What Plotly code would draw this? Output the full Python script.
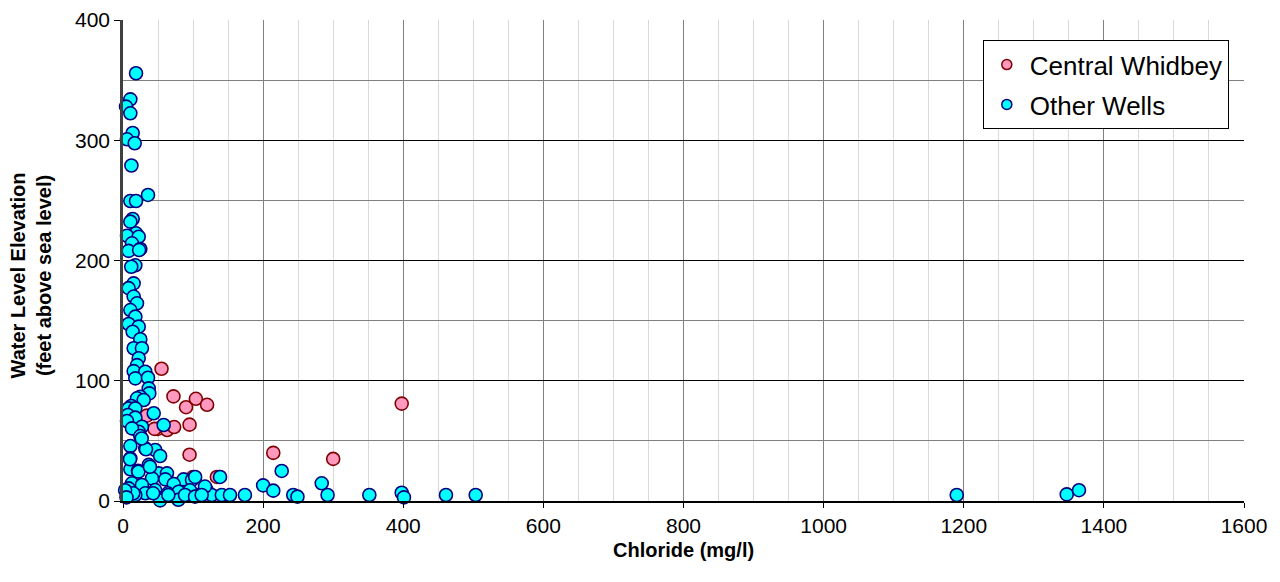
import plotly.graph_objects as go

# Central Whidbey wells: chloride (mg/l) and water level elevation (ft above sea level)
cw_chloride = [55, 72, 90, 104, 120, 34, 49.5, 63, 73, 95, 95, 214.5, 300, 397.8, 137.5, 100, 134, 45]
cw_elev = [110, 87, 78, 85, 80, 71, 60, 59, 61.5, 63.5, 38.5, 40, 35, 81, 20, 20, 20, 60]

# Other wells
ow_chloride = [18.6, 10.5, 4.3, 10.5, 13.8, 5.7, 16.7, 12, 35.7, 10.5, 18.6, 13.8, 10.5, 18.6, 5.7, 22.4,
               12.8, 24.7, 8, 23, 17.6, 11.8, 15.2, 8, 15.2, 20, 10.5, 17.6, 8, 22.4, 13.8, 24.7, 15.2, 27,
               22.4, 20, 15.2, 31.8, 17.6, 35.7, 36.7, 37.5, 24.7, 20, 29.5, 11.8, 8, 43.8, 17.6, 7, 17.6,
               5.7, 58, 27, 22.4, 12.8, 24.7, 10.5, 31.8, 46, 53, 10.5, 36.7, 10.5, 21.4, 51, 62.8, 41.4,
               60.4, 86.6, 98.5, 12.8, 27, 72.4, 8, 46, 31.8, 64, 79.5, 53, 17.6, 93.8, 105.6, 53, 79, 103,
               138.5, 119.5, 126.6, 141, 152.7, 174, 200, 214.5, 226.5, 95.6, 110, 88.5, 64.7, 43, 14.7, 22,
               38.5, 10, 32.8, 26.7, 243, 249, 283.6, 292, 351.6, 117, 102.8, 112.3, 397.8, 401, 461, 503.4,
               1190, 1347, 1364.5, 3, 5]
ow_elev = [355.7, 334, 328, 322.4, 306, 300.8, 297.5, 279, 254.5, 249.5, 249.5, 234.5, 232.3, 222.6, 220.6,
           219.8, 214.3, 209.6, 208, 208.7, 196, 194.8, 181, 177, 170, 164.4, 158.8, 153.3, 147.2, 145, 140.8,
           134.5, 127, 127, 118.7, 113, 108, 107.5, 102, 102.5, 93.7, 89.5, 86.7, 85.4, 84, 79, 77, 73, 77,
           71.5, 69.3, 66.5, 63.2, 61.8, 57.6, 60.4, 54, 45.7, 43.8, 42.4, 37.4, 35.5, 30, 26.4, 25.2, 23, 23,
           18.8, 18, 18, 17.5, 14.7, 13.3, 14.1, 10.5, 9.1, 6.4, 6.4, 7.7, 2.2, 5, 5, 5, 0.5, 1, 20, 20, 9, 5,
           5, 5, 5, 13, 8.6, 25, 9, 5, 5, 5, 6.4, 6.4, 24.4, 28.5, 34.7, 43, 52, 5, 3.6, 14.7, 5, 5, 12, 3.6,
           5, 6.9, 3, 5, 5, 5, 5.5, 9, 9, 3]

series_names = ["Central Whidbey", "Other Wells"]
x_ticks = [0, 200, 400, 600, 800, 1000, 1200, 1400, 1600]
y_ticks = [0, 100, 200, 300, 400]
x_title = "Chloride (mg/l)"
y_title = "Water Level Elevation<br>(feet above sea level)"

PINK, PINK_EDGE = "#ff99c0", "#800000"
CYAN, CYAN_EDGE = "#00ffff", "#000080"
FONT = "Liberation Sans, Arial, sans-serif"

fig = go.Figure()
fig.add_trace(go.Scatter(x=cw_chloride, y=cw_elev, mode="markers", showlegend=False, cliponaxis=False,
                         marker=dict(size=13, color=PINK, line=dict(color=PINK_EDGE, width=1.6))))
fig.add_trace(go.Scatter(x=ow_chloride, y=ow_elev, mode="markers", showlegend=False, cliponaxis=False,
                         marker=dict(size=13, color=CYAN, line=dict(color=CYAN_EDGE, width=1.6))))
# legend entries (smaller markers, as in the reference)
fig.add_trace(go.Scatter(x=[None], y=[None], mode="markers", name=series_names[0], legendgroup="a",
                         marker=dict(size=10, color=PINK, line=dict(color=PINK_EDGE, width=1.5))))
fig.add_trace(go.Scatter(x=[None], y=[None], mode="markers", name=series_names[1], legendgroup="b",
                         marker=dict(size=10, color=CYAN, line=dict(color=CYAN_EDGE, width=1.5))))

fig.add_annotation(text="<b>" + x_title + "</b>", xref="paper", yref="paper", x=0.5, y=0,
                   xanchor="center", yanchor="middle", yshift=-49, showarrow=False,
                   font=dict(size=20))
fig.add_annotation(text="<b>" + y_title + "</b>", xref="paper", yref="paper", x=0, y=0.5,
                   xanchor="center", yanchor="middle", xshift=-93, yshift=-15, textangle=-90,
                   showarrow=False, font=dict(size=20))

fig.update_layout(
    width=1280, height=582,
    margin=dict(l=115, r=44, t=12, b=89),
    paper_bgcolor="white", plot_bgcolor="white",
    font=dict(family=FONT, color="black", size=21),
    showlegend=True,
    legend=dict(x=0.767, y=0.958, xanchor="left", yanchor="top",
                bgcolor="white", bordercolor="black", borderwidth=1,
                font=dict(size=26), traceorder="grouped", tracegroupgap=3,
                itemsizing="trace", itemwidth=36),
    xaxis=dict(range=[0, 1600], tickvals=x_ticks, ticktext=[str(v) for v in x_ticks],
               showgrid=True, gridcolor="#808080", gridwidth=1,
               minor=dict(dtick=50, tick0=0, showgrid=True, gridcolor="#d9d9d9", gridwidth=1, ticks=""),
               zeroline=False, showline=True, linecolor="black", linewidth=1.5,
               ticks="outside", ticklen=5, tickcolor="black", automargin=False),
    yaxis=dict(range=[0, 400], tickvals=y_ticks, ticktext=[str(v) for v in y_ticks],
               showgrid=True, gridcolor="black", gridwidth=1,
               minor=dict(dtick=50, tick0=0, showgrid=True, gridcolor="#808080", gridwidth=1, ticks=""),
               zeroline=False, showline=True, linecolor="#404040", linewidth=2.5,
               ticks="outside", ticklen=6, tickcolor="black", automargin=False),
)

fig.write_html("out.html")
